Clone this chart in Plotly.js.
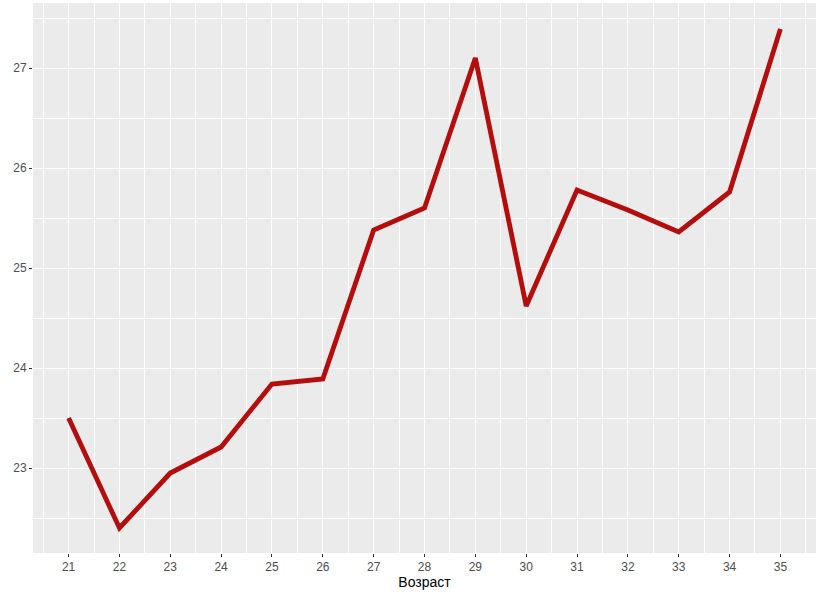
<!DOCTYPE html>
<html>
<head>
<meta charset="utf-8">
<script src="https://cdn.plot.ly/plotly-3.0.1.min.js"></script>
<style>
  html, body { margin: 0; padding: 0; background: #ffffff; }
  #chart { width: 827px; height: 592px; }
</style>
</head>
<body>
<div id="chart"></div>
<script>
// возраст и среднее значение
var ages = [21, 22, 23, 24, 25, 26, 27, 28, 29, 30, 31, 32, 33, 34, 35];
var values = [23.50, 22.40, 22.95, 23.21, 23.84, 23.89, 25.38, 25.60, 27.10, 24.62, 25.78, 25.58, 25.36, 25.76, 27.39];
var yTicks = [23, 24, 25, 26, 27];

var trace = {
    x: ages,
    y: values,
    type: 'scatter',
    mode: 'lines',
    line: {
        color: '#b50c0c',
        width: 4.8
    },
    hoverinfo: 'x+y'
};

var layout = {
    width: 827,
    height: 592,
    margin: { l: 33, r: 11, t: 3, b: 39 },
    paper_bgcolor: '#ffffff',
    plot_bgcolor: '#ebebeb',
    showlegend: false,
    font: {
        family: 'Liberation Sans, Arial, sans-serif',
        color: '#4d4d4d',
        size: 12
    },
    xaxis: {
        range: [20.3, 35.7],
        tickvals: ages,
        ticktext: ages.map(String),
        ticks: 'outside',
        ticklen: 3,
        tickwidth: 1,
        tickcolor: '#333333',
        showgrid: true,
        gridcolor: '#ffffff',
        gridwidth: 1.4,
        zeroline: false,
        showline: false,
        minor: {
            dtick: 0.5,
            tick0: 20.5,
            showgrid: true,
            gridcolor: '#ffffff',
            gridwidth: 0.6
        },
        title: {
            text: 'Возраст',
            font: { size: 14, color: '#000000' },
            standoff: 3
        },
        fixedrange: true
    },
    yaxis: {
        range: [22.15, 27.65],
        tickvals: yTicks,
        ticks: 'outside',
        ticklen: 3,
        tickwidth: 1,
        tickcolor: '#333333',
        showgrid: true,
        gridcolor: '#ffffff',
        gridwidth: 1.4,
        zeroline: false,
        showline: false,
        minor: {
            dtick: 0.5,
            tick0: 22.5,
            showgrid: true,
            gridcolor: '#ffffff',
            gridwidth: 0.6
        },
        fixedrange: true
    }
};

var options = {
    displayModeBar: false
};

Plotly.newPlot('chart', [trace], layout, options);
</script>
</body>
</html>
